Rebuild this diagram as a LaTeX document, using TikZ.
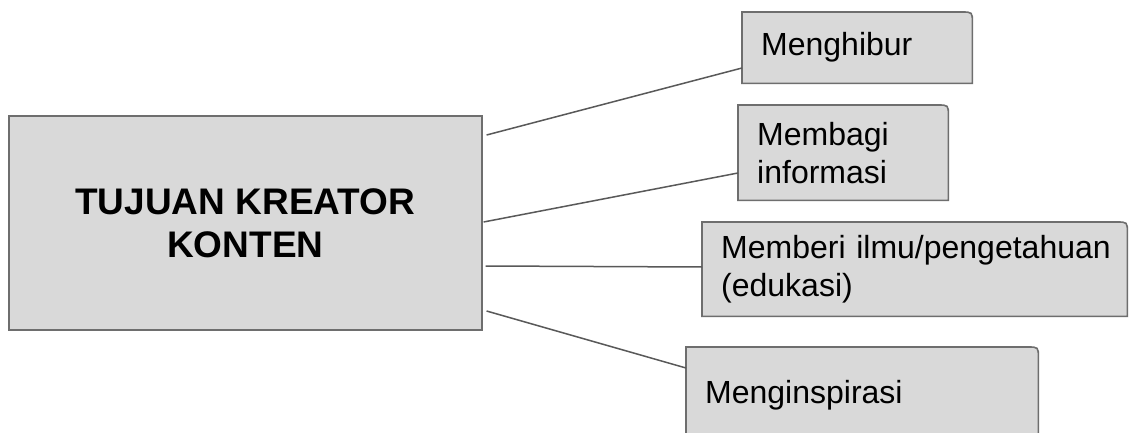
\documentclass[tikz,border=0pt]{standalone}
\usepackage{fontspec}
\setmainfont{Liberation Sans}
\usetikzlibrary{calc,backgrounds}
\definecolor{boxfill}{HTML}{D9D9D9}
\definecolor{boxedge}{HTML}{6E6E6E}
\definecolor{linkc}{HTML}{595959}
\tikzset{
  mainbox/.style={draw=boxedge, fill=boxfill, line width=1.6pt, anchor=north west,
    inner sep=0pt, align=center, font=\fontsize{37}{43}\selectfont\bfseries},
  goal/.style={draw=none, anchor=north west, inner xsep=19pt, inner ysep=0pt,
    align=left, font=\fontsize{32}{38}\selectfont, text=black},
  outline/.style={draw=boxedge, fill=boxfill, line width=1.6pt},
  link/.style={draw=linkc, line width=1.5pt},
}
\newcommand{\tabbox}[1]{\path[outline] (#1.south west) -- (#1.north west)
  -- ([xshift=-11pt]#1.north east) .. controls (#1.north east) .. ([yshift=-11pt]#1.north east)
  -- (#1.south east) -- cycle;}
\begin{document}
\begin{tikzpicture}[x=1pt,y=-1pt]
\clip (0,0) rectangle (1130,433);

\node[mainbox, minimum width=473pt, minimum height=214pt] (main) at (8,115)
  {TUJUAN KREATOR\\KONTEN};

\node[goal, text width=192pt, minimum height=71pt] (b1) at (742,12) {Menghibur};
\node[goal, text width=172pt, minimum height=95pt] (b2) at (738,105) {Membagi\\informasi};
\node[goal, text width=387pt, minimum height=94pt] (b3) at (702,222)
  {\mbox{Memberi ilmu/pengetahuan}\\(edukasi)};
\node[goal, text width=314pt, minimum height=96pt] (b4) at (686,347) {Menginspirasi};

\begin{scope}[on background layer]
  \fill[white] (0,0) rectangle (1130,433);
  \tabbox{b1}
  \tabbox{b2}
  \tabbox{b3}
  \tabbox{b4}
\end{scope}

\coordinate (s1) at ($(main.north east)+(4,20)$);
\coordinate (s2) at ($(main.north east)+(1,107)$);
\coordinate (s3) at ($(main.north east)+(3,151)$);
\coordinate (s4) at ($(main.north east)+(4,196)$);

\draw[link] (s1) -- ($(b1.north west)+(0,56)$);
\draw[link] (s2) -- ($(b2.north west)+(0,68)$);
\draw[link] (s3) -- ($(b3.north west)+(0,45)$);
\draw[link] (s4) -- ($(b4.north west)+(0,21)$);
\end{tikzpicture}
\end{document}
